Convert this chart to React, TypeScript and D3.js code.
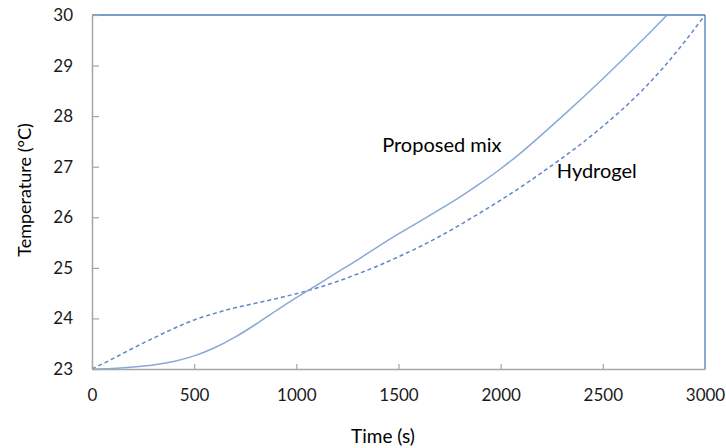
import React, { useRef, useEffect } from 'react';
import * as d3 from 'd3';

const timeSolid = [0, 100, 200, 300, 400, 500, 600, 700, 800, 900, 1000, 1100, 1200, 1300, 1400, 1500, 1600, 1700, 1800, 1900, 2000, 2100, 2200, 2300, 2400, 2500, 2600, 2700, 2800, 2814];
const proposedMix = [23, 23.01, 23.04, 23.08, 23.15, 23.26, 23.42, 23.63, 23.88, 24.15, 24.41, 24.66, 24.91, 25.16, 25.42, 25.67, 25.91, 26.15, 26.4, 26.67, 26.96, 27.28, 27.63, 27.99, 28.36, 28.74, 29.13, 29.53, 29.94, 30];
const timeDashed = [0, 100, 200, 300, 400, 500, 600, 700, 800, 900, 1000, 1100, 1200, 1300, 1400, 1500, 1600, 1700, 1800, 1900, 2000, 2100, 2200, 2300, 2400, 2500, 2600, 2700, 2800, 2900, 3000];
const hydrogel = [23, 23.2, 23.41, 23.61, 23.8, 23.97, 24.1, 24.21, 24.3, 24.39, 24.49, 24.6, 24.73, 24.88, 25.04, 25.22, 25.41, 25.62, 25.85, 26.09, 26.34, 26.6, 26.88, 27.17, 27.47, 27.8, 28.15, 28.54, 28.98, 29.47, 30];
const xTicks = [0, 500, 1000, 1500, 2000, 2500, 3000];
const yTicks = [23, 24, 25, 26, 27, 28, 29, 30];

const font = 'Lato, "Open Sans", sans-serif';

function App() {
  const ref = useRef(null);

  useEffect(() => {
    drawChart();
  }, []);

  function drawChart() {
    const root = d3.select(ref.current);
    root.selectAll('*').remove();

    const margin = { top: 15, right: 21, bottom: 79, left: 92 };
    const width = 726 - margin.left - margin.right;
    const height = 448 - margin.top - margin.bottom;

    const x = d3.scaleLinear().domain([0, 3000]).range([0, width]);
    const y = d3.scaleLinear().domain([23, 30]).range([height, 0]);

    const g = root.append('g')
      .attr('transform', 'translate(' + margin.left + ',' + margin.top + ')');

    // frame: blue top and right, grey axes
    g.append('line').attr('x1', 0).attr('x2', width).attr('y1', 0).attr('y2', 0)
      .attr('stroke', '#4a7ebb').attr('stroke-width', 1.3);
    g.append('line').attr('x1', width).attr('x2', width).attr('y1', 0).attr('y2', height)
      .attr('stroke', '#4a7ebb').attr('stroke-width', 1.3);

    const xAxis = g.append('g')
      .attr('transform', 'translate(0,' + height + ')')
      .call(d3.axisBottom(x).tickValues(xTicks).tickFormat(d3.format('d')).tickSizeInner(-5).tickSizeOuter(0).tickPadding(20));
    const yAxis = g.append('g')
      .call(d3.axisLeft(y).tickValues(yTicks).tickFormat(d3.format('d')).tickSizeInner(-7).tickSizeOuter(0).tickPadding(19));

    [xAxis, yAxis].forEach(a => {
      a.select('.domain').attr('stroke', '#a6a6a6').attr('stroke-width', 1.5);
      a.selectAll('.tick line').attr('stroke', '#a6a6a6').attr('stroke-width', 1.2);
      a.selectAll('.tick text').attr('font-family', font).attr('font-size', 17).attr('fill', '#1a1a1a');
    });

    const clipId = 'plotclip';
    g.append('clipPath').attr('id', clipId).append('rect')
      .attr('x', 0).attr('y', 0).attr('width', width).attr('height', height);

    const solidData = timeSolid.map((t, i) => ({ t, v: proposedMix[i] }));
    const dashData = timeDashed.map((t, i) => ({ t, v: hydrogel[i] }));

    const line = d3.line<any>()
      .x(d => x(d.t))
      .y(d => y(d.v))
      .curve(d3.curveMonotoneX);

    g.append('path')
      .datum(dashData)
      .attr('clip-path', 'url(#' + clipId + ')')
      .attr('fill', 'none')
      .attr('stroke', '#5f86c6')
      .attr('stroke-width', 1.5)
      .attr('stroke-dasharray', '4,3')
      .attr('d', line);

    g.append('path')
      .datum(solidData)
      .attr('clip-path', 'url(#' + clipId + ')')
      .attr('fill', 'none')
      .attr('stroke', '#8aa8d8')
      .attr('stroke-width', 1.5)
      .attr('d', line);

    g.append('text')
      .attr('x', x(1420)).attr('y', y(27.3))
      .attr('font-family', font).attr('font-size', 20).attr('fill', '#000')
      .text('Proposed mix');
    g.append('text')
      .attr('x', x(2275)).attr('y', y(26.77))
      .attr('font-family', font).attr('font-size', 20).attr('fill', '#000')
      .text('Hydrogel');

    root.append('text')
      .attr('x', 383).attr('y', 443)
      .attr('text-anchor', 'middle')
      .attr('font-family', font).attr('font-size', 19).attr('fill', '#000')
      .text('Time (s)');
    root.append('text')
      .attr('transform', 'translate(31,190) rotate(-90)')
      .attr('text-anchor', 'middle')
      .attr('font-family', font).attr('font-size', 18).attr('fill', '#000')
      .text('Temperature (°C)');
  }

  return (
    <svg ref={ref} width={726} height={448}
      style={{ position: 'absolute', left: 0, top: 0, background: '#fff' }} />
  );
}

export default App;
